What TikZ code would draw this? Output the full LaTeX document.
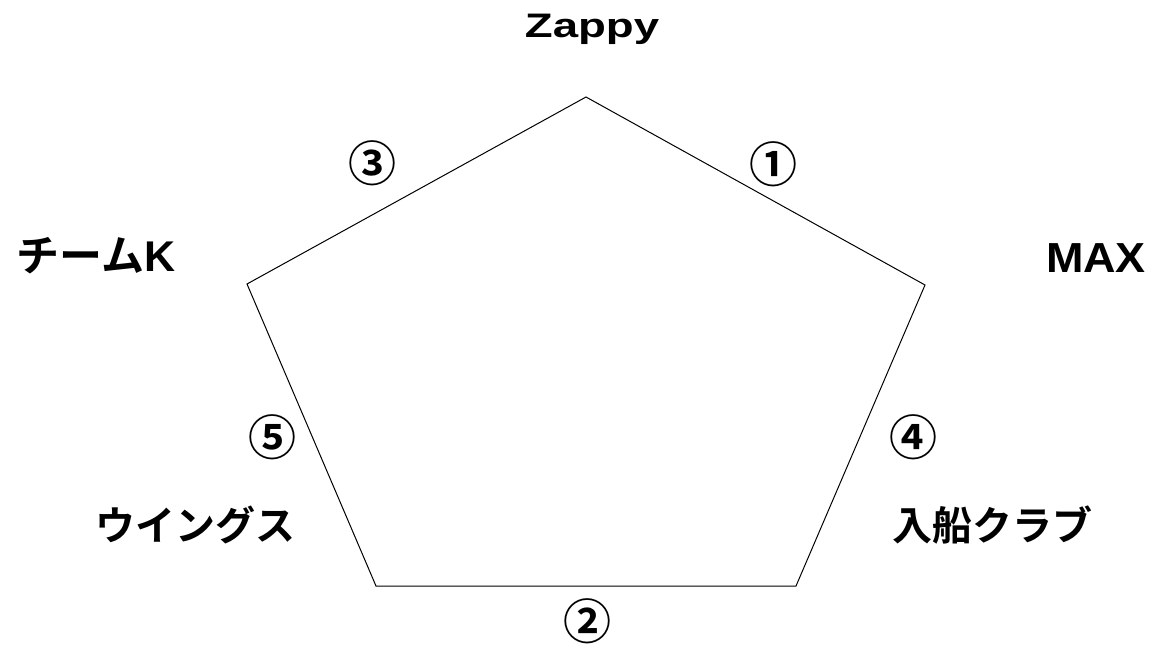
\documentclass[tikz,border=0pt]{standalone}
\usepackage{fontspec}
\setmainfont{Noto Sans CJK JP Bold}
\newfontfamily\arialb{Liberation Sans Bold}
\usetikzlibrary{positioning}

\begin{document}
\begin{tikzpicture}[x=1pt,y=-1pt,
  team/.style={font=\fontsize{40}{42}\selectfont,inner sep=0pt},
  latin/.style={font=\fontsize{42}{44}\selectfont\arialb,inner sep=0pt},
  match/.style={font=\fontsize{48}{50}\selectfont,inner sep=0pt}]
  \useasboundingbox (0,0) rectangle (1158,645);
  % pentagon corners
  \coordinate (top) at (586,97);
  \coordinate (rt) at (925,285);
  \coordinate (rb) at (796,586);
  \coordinate (lb) at (376,586);
  \coordinate (lt) at (247,284);
  \draw[line width=1pt] (top) -- (rt) -- (rb) -- (lb) -- (lt) -- cycle;
  % team names
  \node[latin,font=\fontsize{34}{36}\selectfont\arialb,anchor=base] (zappy) at (592,37) {\scalebox{1.34}[1]{Zappy}};
  \node[latin,anchor=base] (max) at (1096,272) {\scalebox{1.07}[1]{MAX}};
  \node[team,font=\fontsize{43}{45}\selectfont,anchor=base] (teamk) at (96,271) {チーム{\arialb K}};
  \node[team,anchor=base] (wings) at (195,540) {ウイングス};
  \node[team,anchor=base] (iribune) at (992,540) {入船クラブ};
  % match numbers
  \node[match] (m1) at (773,164) {①};
  \node[match] (m2) at (587,621) {②};
  \node[match] (m3) at (372,163) {③};
  \node[match] (m4) at (913,437) {④};
  \node[match] (m5) at (272,437) {⑤};
\end{tikzpicture}
\end{document}
